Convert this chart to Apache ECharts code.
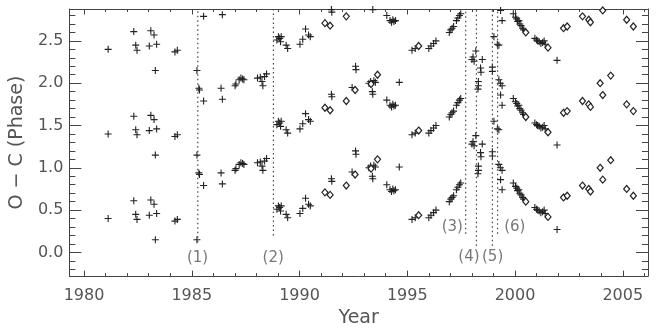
<!DOCTYPE html>
<html><head><meta charset="utf-8">
<script src="https://cdn.jsdelivr.net/npm/echarts@6/dist/echarts.min.js"></script>
<style>html,body{margin:0;padding:0;background:#fff}#c{width:656px;height:333px}</style>
</head><body><div id="c"></div>
<script>
// ---- data (lowest plotted phase of each observation; copies drawn at +1 and +2) ----
const plusYears = [
 1981.12,1982.31,1982.40,1982.46,1983.03,1983.10,1983.25,1983.31,1983.37,1984.22,1984.33,
 1985.24,1985.33,1985.36,1985.55,1986.36,1986.42,
 1987.01,1987.05,1987.20,1987.28,1987.36,1987.42,1988.05,1988.18,1988.26,1988.30,1988.38,1988.47,
 1988.95,1989.02,1989.08,1989.15,1989.12,1989.38,1989.45,1990.02,1990.15,1990.28,1990.42,1990.50,
 1991.48,1991.50,1992.44,1992.60,1992.62,1993.22,1993.30,1993.38,1993.40,1993.45,1993.52,
 1994.05,1994.20,1994.27,1994.33,1994.38,1994.45,1994.63,
 1995.22,1995.37,1996.00,1996.10,1996.22,1996.33,1996.95,1997.02,1997.08,1997.15,1997.28,1997.35,1997.42,1997.48,
 1998.00,1998.05,1998.10,1998.18,1998.48,1998.40,1998.42,1998.30,1998.30,1998.28,1998.95,1998.95,
 1999.02,1999.18,1999.25,1999.25,1999.32,1999.40,1999.33,1999.40,
 1999.92,2000.02,2000.08,2000.12,2000.18,2000.22,2000.28,2000.35,2000.40,
 2000.92,2001.00,2001.05,2001.12,2001.20,2001.28,2001.35,2001.40,2001.95
];
const plusPhase = [
 0.40,0.61,0.45,0.39,0.44,0.62,0.57,0.15,0.46,0.37,0.39,
 0.15,0.94,0.92,0.79,0.94,0.81,
 0.97,0.99,1.04,1.06,1.05,1.04,1.06,1.07,1.02,0.97,1.08,1.11,
 0.51,0.55,0.53,0.55,0.49,0.45,0.41,0.46,0.52,0.64,0.57,0.55,
 0.87,0.84,0.95,1.20,1.16,1.00,1.02,0.90,0.87,1.03,1.01,
 0.80,0.74,0.72,0.75,0.73,0.74,1.01,
 0.39,0.41,0.41,0.44,0.47,0.50,0.60,0.63,0.65,0.67,0.74,0.77,0.80,0.82,
 1.28,1.31,1.26,1.38,1.28,1.18,1.13,1.02,0.97,0.93,1.14,1.19,
 1.55,1.46,1.45,1.04,1.00,0.97,0.86,0.74,
 0.82,0.78,0.76,0.73,0.74,0.70,0.68,0.65,0.63,
 0.53,0.51,0.50,0.49,0.47,0.48,0.50,0.46,0.27
];
const diamondYears = [1991.18,1991.42,1992.17,1992.58,1993.32,1993.62,1995.53,2000.50,2001.53,
 2002.25,2002.42,2003.13,2003.42,2003.50,2003.95,2004.07,2004.44,2005.18,2005.49];
const diamondPhase = [0.71,0.68,0.79,0.92,0.99,1.10,0.44,0.60,0.42,
 0.65,0.67,0.79,0.75,0.72,1.00,0.86,1.09,0.75,0.67];
const phaseCopies = [0,1,2];
// event markers
const eventYears  = [1985.28,1988.79,1997.71,1998.21,1998.95,1999.19];
const eventBottom = [0.12,0.20,0.22,0.08,0.08,0.22];
const eventLabels = ['(1)','(2)','(3)','(4)','(5)','(6)'];
const eventLabelX = [1985.27,1988.78,1997.09,1997.86,1998.96,1999.99];
const eventLabelY = [-0.07,-0.07,0.30,-0.06,-0.06,0.30];
// axes
const xMin = 1979.32, xMax = 2006.17, yMin = -0.28, yMax = 2.877;
const xMajor = [1980,1985,1990,1995,2000,2005];
const yMajor = [0.0,0.5,1.0,1.5,2.0,2.5];
const xMinor = []; for (let y = 1980; y <= 2006; y++) xMinor.push(y);
const yMinor = []; for (let i = -2; i <= 28; i++) yMinor.push(+(i/10).toFixed(1));

function replicate(xs, ys){
  const out = [];
  xs.forEach((x,i)=>{ phaseCopies.forEach(k=>{ const v = ys[i]+k; if (v <= yMax+0.05) out.push([x, +v.toFixed(3)]); }); });
  return out;
}
const FONT = 'DejaVu Sans';
const TXT = '#555';
const AX = '#444';
const chart = echarts.init(document.getElementById('c'), null, {renderer:'canvas'});
const xBase = (pos, vals, len, showLine, showLabel, extra) => Object.assign({
  type:'value', position:pos, min:xMin, max:xMax,
  axisLine:{show:showLine, onZero:false, lineStyle:{color:AX, width:1}},
  axisTick:{show:true, inside:true, length:len, customValues:vals, lineStyle:{color:AX, width:1}},
  axisLabel:{show:showLabel, customValues:vals, color:TXT, fontFamily:FONT, fontSize:16, margin:12, formatter:v=>String(Math.round(v))},
  splitLine:{show:false}
}, extra||{});
const yBase = (pos, vals, len, showLine, showLabel, extra) => Object.assign({
  type:'value', position:pos, min:yMin, max:yMax,
  axisLine:{show:showLine, onZero:false, lineStyle:{color:AX, width:1}},
  axisTick:{show:true, inside:true, length:len, customValues:vals, lineStyle:{color:AX, width:1}},
  axisLabel:{show:showLabel, customValues:vals, color:TXT, fontFamily:FONT, fontSize:16, margin:6, formatter:v=>v.toFixed(1)},
  splitLine:{show:false}
}, extra||{});

const series = [];
series.push({
  type:'scatter', xAxisIndex:0, yAxisIndex:0, data:replicate(plusYears, plusPhase),
  symbol:'path://M5,0L5,10M0,5L10,5', symbolSize:7, clip:true, silent:true,
  itemStyle:{color:'rgba(0,0,0,0)', borderColor:'#222', borderWidth:1.1, opacity:1}
});
series.push({
  type:'scatter', xAxisIndex:0, yAxisIndex:0, data:replicate(diamondYears, diamondPhase),
  symbol:'diamond', symbolSize:[6,7], clip:true, silent:true,
  itemStyle:{color:'#fff', borderColor:'#222', borderWidth:1.2, opacity:1}
});
eventYears.forEach((x,i)=>{
  series.push({type:'line', xAxisIndex:0, yAxisIndex:0, data:[[x, eventBottom[i]],[x, yMax]], symbol:'none', silent:true,
    lineStyle:{color:'#444', width:1.2, type:[1.5,3]}});
});
series.push({
  type:'scatter', xAxisIndex:0, yAxisIndex:0, symbolSize:0, silent:true,
  data:eventLabelX.map((x,i)=>({value:[x, eventLabelY[i]], name:eventLabels[i]})),
  label:{show:true, position:'inside', formatter:p=>p.name, color:TXT, fontFamily:FONT, fontSize:15}
});

chart.setOption({
  animation:false,
  backgroundColor:'#fff',
  grid:{left:67, right:8, top:9, bottom:50},
  xAxis:[
    xBase('bottom', xMajor, 5.5, true, true, {name:'Year', nameLocation:'middle', nameGap:32,
      nameTextStyle:{color:TXT, fontFamily:FONT, fontSize:19}}),
    xBase('bottom', xMinor, 3, false, false),
    xBase('top', xMajor, 5.5, true, false),
    xBase('top', xMinor, 3, false, false)
  ],
  yAxis:[
    yBase('left', yMajor, 12, true, true, {name:'O − C (Phase)', nameLocation:'middle', nameGap:32, nameRotate:90,
      nameTextStyle:{color:TXT, fontFamily:FONT, fontSize:19}}),
    yBase('left', yMinor, 6, false, false),
    yBase('right', yMajor, 12, true, false),
    yBase('right', yMinor, 6, false, false)
  ],
  series:series
});
</script></body></html>
